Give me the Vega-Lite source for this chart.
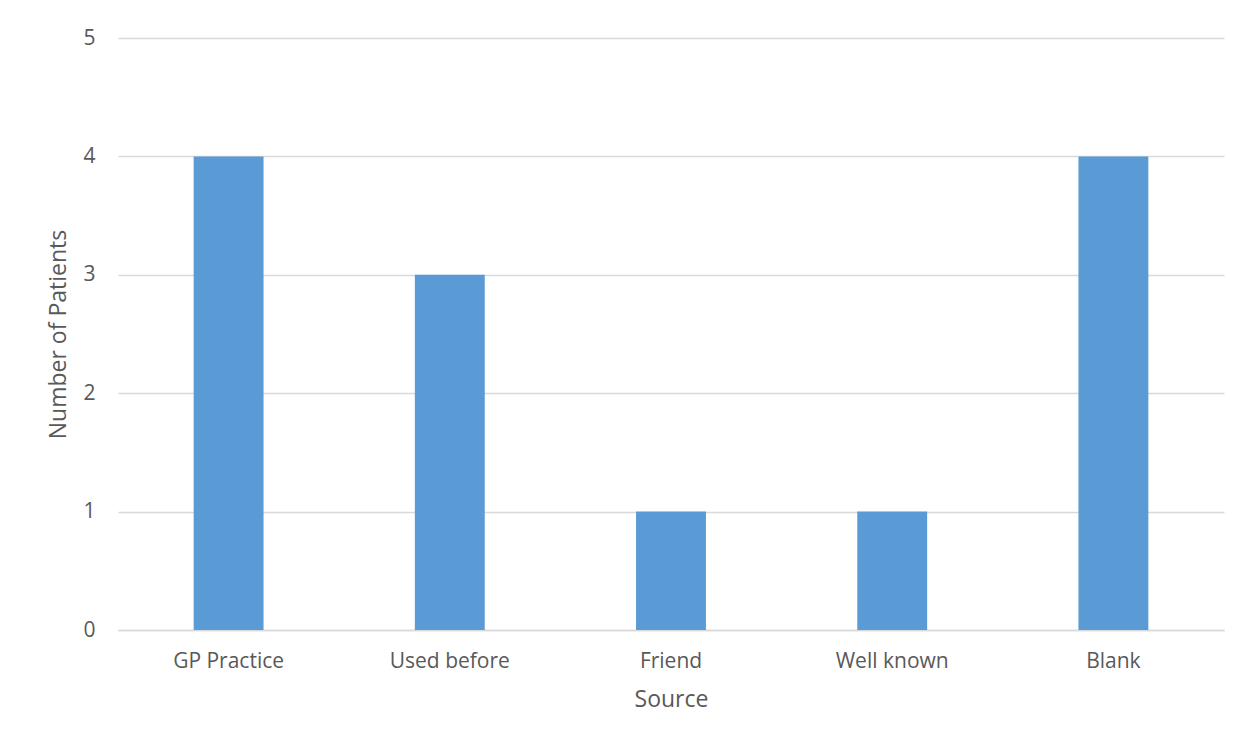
{
  "$schema": "https://vega.github.io/schema/vega-lite/v6.json",
  "width": 1106,
  "height": 592,
  "autosize": {"type": "none"},
  "padding": {"left": 118, "top": 38, "right": 21, "bottom": 110},
  "background": "white",
  "config": {
    "view": {"stroke": null},
    "font": "Open Sans",
    "axis": {
      "labelFont": "Open Sans",
      "titleFont": "Open Sans",
      "labelColor": "#595959",
      "titleColor": "#595959",
      "labelFontSize": 21,
      "titleFontSize": 23,
      "titleFontWeight": "normal",
      "gridColor": "#D9D9D9",
      "gridWidth": 1.3,
      "domainColor": "#D9D9D9",
      "domainWidth": 1.3,
      "ticks": false
    }
  },
  "data": {
    "values": [
      {"source": "GP Practice", "patients": 4},
      {"source": "Used before", "patients": 3},
      {"source": "Friend", "patients": 1},
      {"source": "Well known", "patients": 1},
      {"source": "Blank", "patients": 4}
    ]
  },
  "mark": {"type": "bar", "color": "#5B9BD5"},
  "encoding": {
    "x": {
      "field": "source",
      "type": "nominal",
      "sort": null,
      "title": "Source",
      "scale": {"paddingInner": 0.684, "paddingOuter": 0.342},
      "axis": {"labelAngle": 0, "labelPadding": 20, "titlePadding": 17, "grid": false, "domain": true}
    },
    "y": {
      "field": "patients",
      "type": "quantitative",
      "title": "Number of Patients",
      "scale": {"domain": [0, 5], "nice": false},
      "axis": {"values": [0, 1, 2, 3, 4, 5], "domain": false, "labelPadding": 23, "titlePadding": 12, "grid": true}
    }
  }
}
